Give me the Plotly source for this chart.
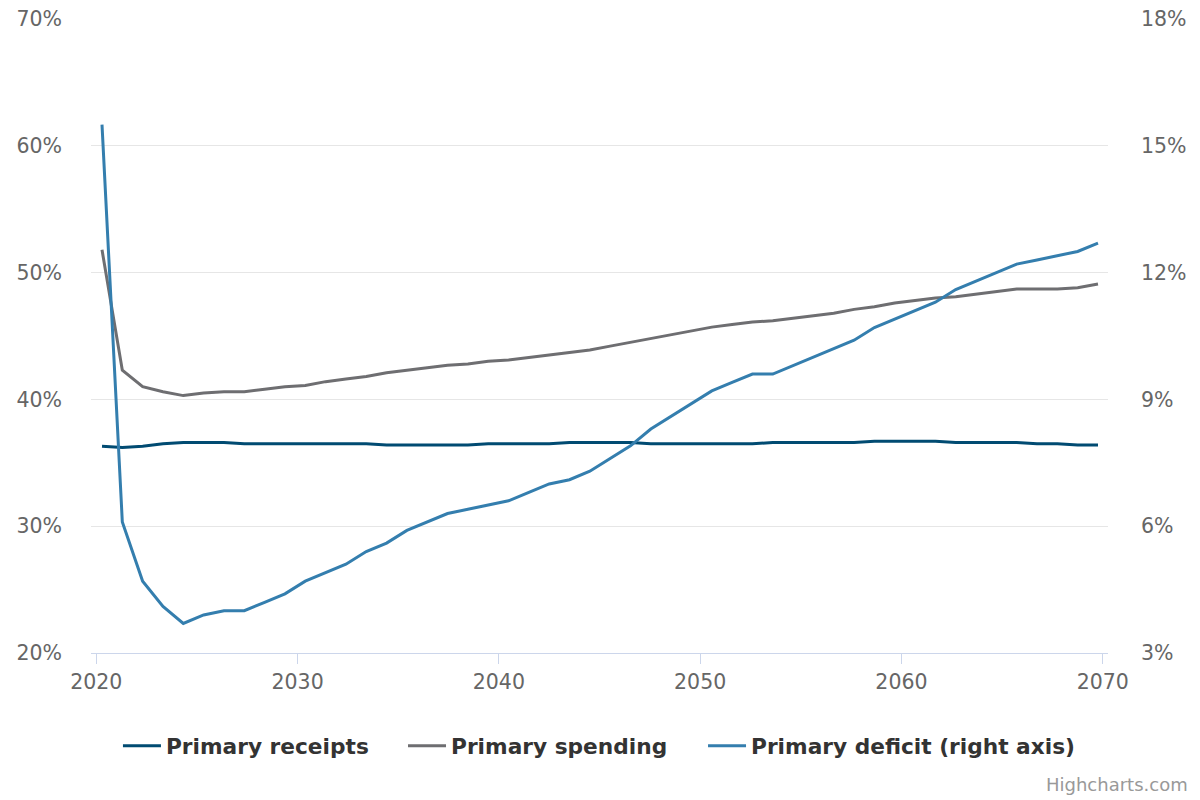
import plotly.graph_objects as go

years = list(range(2020, 2070))

receipts = [36.3, 36.2, 36.3, 36.5, 36.6, 36.6, 36.6, 36.5, 36.5, 36.5,
            36.5, 36.5, 36.5, 36.5, 36.4, 36.4, 36.4, 36.4, 36.4, 36.5,
            36.5, 36.5, 36.5, 36.6, 36.6, 36.6, 36.6, 36.5, 36.5, 36.5,
            36.5, 36.5, 36.5, 36.6, 36.6, 36.6, 36.6, 36.6, 36.7, 36.7,
            36.7, 36.7, 36.6, 36.6, 36.6, 36.6, 36.5, 36.5, 36.4, 36.4]

spending = [51.8, 42.3, 41.0, 40.6, 40.3, 40.5, 40.6, 40.6, 40.8, 41.0,
            41.1, 41.4, 41.6, 41.8, 42.1, 42.3, 42.5, 42.7, 42.8, 43.0,
            43.1, 43.3, 43.5, 43.7, 43.9, 44.2, 44.5, 44.8, 45.1, 45.4,
            45.7, 45.9, 46.1, 46.2, 46.4, 46.6, 46.8, 47.1, 47.3, 47.6,
            47.8, 48.0, 48.1, 48.3, 48.5, 48.7, 48.7, 48.7, 48.8, 49.1]

deficit = [15.5, 6.1, 4.7, 4.1, 3.7, 3.9, 4.0, 4.0, 4.2, 4.4,
           4.7, 4.9, 5.1, 5.4, 5.6, 5.9, 6.1, 6.3, 6.4, 6.5,
           6.6, 6.8, 7.0, 7.1, 7.3, 7.6, 7.9, 8.3, 8.6, 8.9,
           9.2, 9.4, 9.6, 9.6, 9.8, 10.0, 10.2, 10.4, 10.7, 10.9,
           11.1, 11.3, 11.6, 11.8, 12.0, 12.2, 12.3, 12.4, 12.5, 12.7]

x_ticks = [2020, 2030, 2040, 2050, 2060, 2070]
left_ticks = [20, 30, 40, 50, 60, 70]
right_ticks = [3, 6, 9, 12, 15, 18]

# The data points are spread slightly wider than the labelled year scale in the
# original chart; keep both scales and place the year labels on the data scale.
LABEL_RANGE = [2019.737, 2070.263]
DATA_RANGE = [2019.459, 2069.492]
scale = (DATA_RANGE[1] - DATA_RANGE[0]) / (LABEL_RANGE[1] - LABEL_RANGE[0])
x_tickvals = [DATA_RANGE[0] + (t - LABEL_RANGE[0]) * scale for t in x_ticks]

C_REC = "#014b72"
C_SPEND = "#6e6e71"
C_DEF = "#347eae"

fig = go.Figure()
fig.add_trace(go.Scatter(x=years, y=receipts, name="Primary receipts", mode="lines",
                         line=dict(color=C_REC, width=3), yaxis="y", legend="legend"))
fig.add_trace(go.Scatter(x=years, y=spending, name="Primary spending", mode="lines",
                         line=dict(color=C_SPEND, width=3), yaxis="y", legend="legend2"))
fig.add_trace(go.Scatter(x=years, y=deficit, name="Primary deficit (right axis)", mode="lines",
                         line=dict(color=C_DEF, width=3), yaxis="y2", legend="legend3"))

tick_font = dict(family="DejaVu Sans", size=20.5, color="#666666")
legend_font = dict(family="DejaVu Sans", size=21.7, color="#333333", weight="bold")


def legend_at(xpos):
    return dict(orientation="h", x=xpos, xanchor="left", y=-0.147, yanchor="middle",
                font=legend_font, itemwidth=38, bgcolor="rgba(0,0,0,0)")


fig.update_layout(
    width=1200, height=800,
    margin=dict(l=91, r=92, t=19, b=147),
    paper_bgcolor="white", plot_bgcolor="white",
    font=dict(family="DejaVu Sans", color="#333333"),
    showlegend=True,
    legend=legend_at(0.0265),
    legend2=legend_at(0.3068),
    legend3=legend_at(0.6018),
    xaxis=dict(range=DATA_RANGE, tickvals=x_tickvals, ticktext=[str(v) for v in x_ticks],
               showgrid=False, zeroline=False, showline=True, linecolor="#ccd6eb", linewidth=1,
               ticks="outside", ticklen=10, tickcolor="#ccd6eb", tickfont=tick_font,
               ticklabelstandoff=0, automargin=False),
    yaxis=dict(range=[20, 70], tickvals=left_ticks, ticktext=[f"{v}%" for v in left_ticks],
               showgrid=True, gridcolor="#e6e6e6", gridwidth=1, zeroline=False, showline=False,
               tickfont=tick_font, ticklabelstandoff=28, automargin=False),
    yaxis2=dict(range=[3, 18], tickvals=right_ticks, ticktext=[f"{v}%" for v in right_ticks],
                overlaying="y", side="right", anchor="x", showgrid=False, zeroline=False,
                showline=False, tickfont=tick_font, ticklabelstandoff=32, automargin=False),
    annotations=[dict(text="Highcharts.com", xref="paper", yref="paper", x=1.0806, y=-0.208,
                      xanchor="right", yanchor="middle", showarrow=False,
                      font=dict(family="DejaVu Sans", size=18, color="#999999"))],
)

fig.write_html("out.html", config={"displayModeBar": False},
               post_script="document.body.style.margin='0';")
